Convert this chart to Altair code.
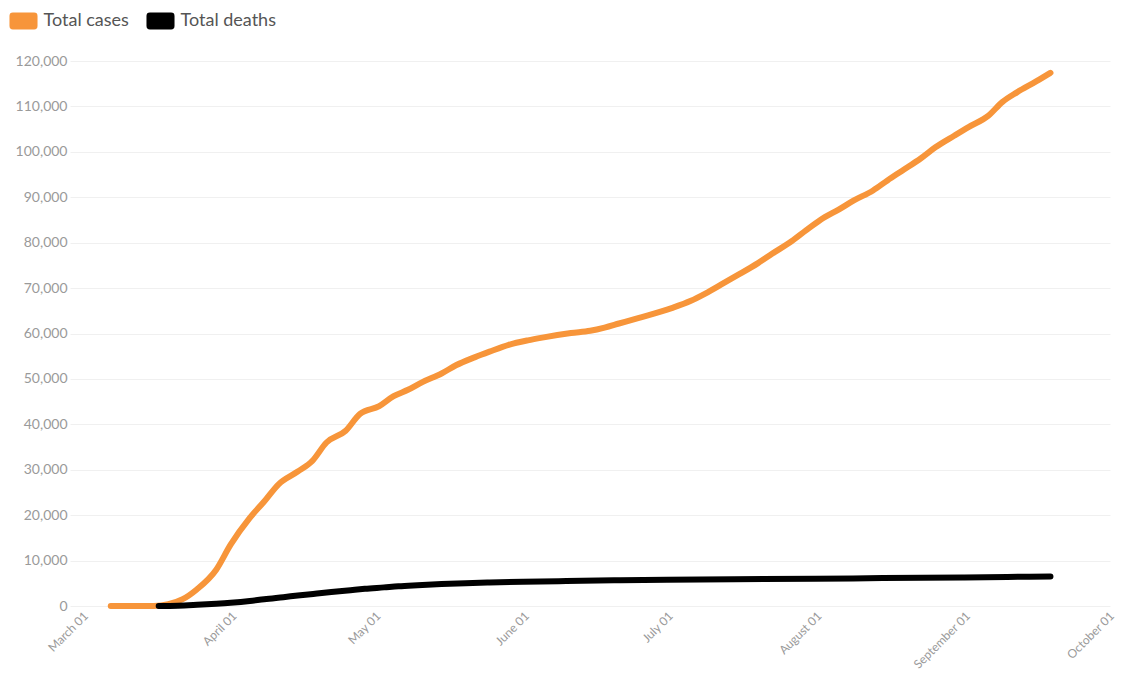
import altair as alt
import pandas as pd

# ---- data ----
case_dates = [
    "2020-03-07", "2020-03-10", "2020-03-13", "2020-03-16", "2020-03-19", "2020-03-22",
    "2020-03-25", "2020-03-29", "2020-04-01", "2020-04-05", "2020-04-08", "2020-04-11",
    "2020-04-15", "2020-04-18", "2020-04-21", "2020-04-25", "2020-04-28", "2020-05-02",
    "2020-05-05", "2020-05-08", "2020-05-11", "2020-05-15", "2020-05-18", "2020-05-22",
    "2020-05-25", "2020-05-29", "2020-06-02", "2020-06-05", "2020-06-11", "2020-06-15",
    "2020-06-18", "2020-06-21", "2020-06-25", "2020-07-02", "2020-07-06", "2020-07-09",
    "2020-07-13", "2020-07-16", "2020-07-20", "2020-07-23", "2020-07-27", "2020-07-30",
    "2020-08-02", "2020-08-06", "2020-08-09", "2020-08-13", "2020-08-16", "2020-08-19",
    "2020-08-23", "2020-08-26", "2020-08-30", "2020-09-02", "2020-09-06", "2020-09-09",
    "2020-09-12", "2020-09-16", "2020-09-19",
]
case_values = [
    0, 0, 0, 20, 400, 1500,
    3700, 8000, 13500, 19400, 23000, 26800,
    29600, 31900, 36000, 38600, 42300, 44000,
    46200, 47600, 49300, 51200, 53000, 54800,
    56000, 57500, 58500, 59100, 60100, 60600,
    61300, 62200, 63400, 65600, 67200, 68800,
    71200, 73000, 75500, 77600, 80300, 82700,
    85000, 87400, 89300, 91500, 93700, 95800,
    98600, 101000, 103600, 105500, 107900, 111000,
    113100, 115500, 117400,
]

death_dates = [
    "2020-03-17", "2020-03-21", "2020-03-25", "2020-03-29", "2020-04-01", "2020-04-05",
    "2020-04-08", "2020-04-12", "2020-04-15", "2020-04-19", "2020-04-22", "2020-04-26",
    "2020-04-29", "2020-05-03", "2020-05-06", "2020-05-10", "2020-05-15", "2020-05-20",
    "2020-05-25", "2020-06-01", "2020-06-10", "2020-06-20", "2020-07-01", "2020-07-15",
    "2020-08-01", "2020-08-15", "2020-09-01", "2020-09-10", "2020-09-19",
]
death_values = [
    0, 60, 250, 480, 700, 1100,
    1500, 1950, 2300, 2750, 3080, 3480,
    3780, 4100, 4350, 4580, 4830, 5030,
    5180, 5350, 5500, 5650, 5800, 5900,
    6000, 6150, 6300, 6400, 6500,
]

series_names = ["Total cases", "Total deaths"]
series_colors = ["#F7953A", "#000000"]
y_ticks = [0, 10000, 20000, 30000, 40000, 50000, 60000, 70000, 80000, 90000, 100000, 110000, 120000]
x_tick_months = [3, 4, 5, 6, 7, 8, 9, 10]

df = pd.DataFrame({
    "date": case_dates + death_dates,
    "value": case_values + death_values,
    "series": [series_names[0]] * len(case_dates) + [series_names[1]] * len(death_dates),
})

# rounded-rectangle legend swatch (wider than tall)
swatch = ("M-1.25,-1 L1.25,-1 Q1.65,-1 1.65,-0.6 L1.65,0.6 Q1.65,1 1.25,1 "
          "L-1.25,1 Q-1.65,1 -1.65,0.6 L-1.65,-0.6 Q-1.65,-1 -1.25,-1 Z")

color_scale = alt.Scale(domain=series_names, range=series_colors)

legend = alt.Legend(
    orient="none", legendX=-55.5, legendY=-49, direction="horizontal", title=None,
    symbolType=swatch, symbolSize=289, symbolStrokeWidth=0, symbolOpacity=1,
    labelFont="Lato", labelFontSize=18, labelColor="#555555", labelOffset=11,
    columnPadding=16, padding=0,
)

x = alt.X(
    "date:T", title=None,
    scale=alt.Scale(type="utc", domain=[
        alt.DateTime(year=2020, month=2, date=27, hours=12, utc=True),
        alt.DateTime(year=2020, month=10, date=1, hours=10, utc=True),
    ]),
    axis=alt.Axis(
        values=[alt.DateTime(year=2020, month=m, date=1, utc=True) for m in x_tick_months],
        labelExpr="utcFormat(datum.value, '%B %d')",
        labelAngle=-45, labelAlign="right",
        labelBaseline="top", labelPadding=4, labelColor="#9a9a9a", labelFont="Lato",
        labelFontSize=12, grid=False, gridOpacity=0, ticks=False, domain=False,
        labelFlush=False, labelOverlap=False,
    ),
)

y = alt.Y(
    "value:Q", title=None,
    scale=alt.Scale(domain=[0, 120000], nice=False),
    axis=alt.Axis(
        values=y_ticks, labelExpr="format(datum.value, ',')",
        labelColor="#9a9a9a", labelFont="Lato",
        labelFontSize=14, labelPadding=3, ticks=False, domain=False,
        grid=True, gridColor="#f0f0f0", gridWidth=1,
    ),
)

line_base = alt.Chart(df).mark_line(
    strokeWidth=6, strokeCap="round", strokeJoin="round", interpolate="monotone"
).encode(x=x, y=y, color=alt.Color("series:N", scale=color_scale, legend=None))

cases = line_base.transform_filter(alt.datum.series == series_names[0])
deaths = line_base.transform_filter(alt.datum.series == series_names[1])

# invisible filled points that only carry the legend (filled swatches)
legend_layer = alt.Chart(df).mark_point(filled=True, size=0, opacity=1).encode(
    x=x, y=y, color=alt.Color("series:N", scale=color_scale, legend=legend)
)

chart = alt.layer(legend_layer, cases, deaths).resolve_legend(
    color="independent"
).properties(
    width=1040, height=545,
    padding={"left": 62, "top": 53, "right": 10, "bottom": 65},
    autosize=alt.AutoSizeParams(type="none"),
).configure_view(
    stroke="transparent", strokeWidth=0
).configure_axis(
    domain=False, ticks=False
).configure_axisX(
    grid=False, gridOpacity=0, gridColor="transparent", domain=False
).configure_axisY(
    domain=False
).configure(
    background="white",
    style={"cell": {"stroke": "transparent", "strokeWidth": 0}},
)

chart.save("out.html", embed_options={"renderer": "svg", "actions": False})
